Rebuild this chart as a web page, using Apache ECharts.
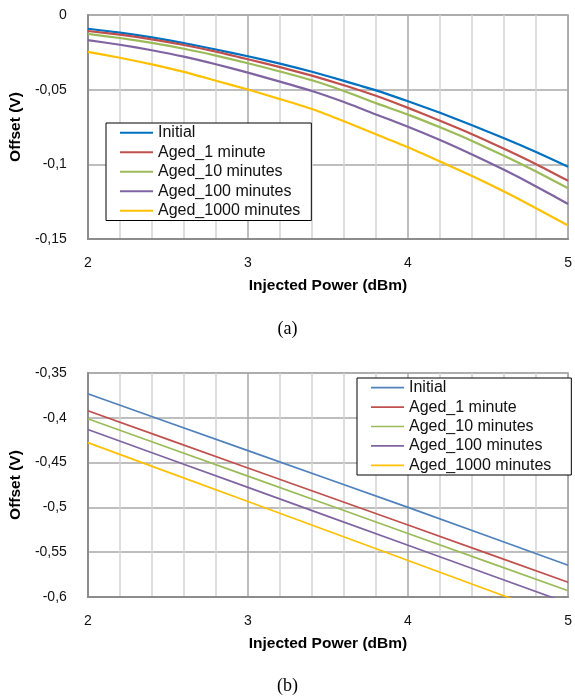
<!DOCTYPE html>
<html>
<head>
<meta charset="utf-8">
<script src="https://cdn.jsdelivr.net/npm/echarts@6/dist/echarts.min.js"></script>
<style>
html,body{margin:0;padding:0;background:#fff;}
#chart{width:575px;height:698px;}
</style>
</head>
<body>
<div id="chart"></div>
<script>
// ---------- data ----------
const seriesNames = ['Initial', 'Aged_1 minute', 'Aged_10 minutes', 'Aged_100 minutes', 'Aged_1000 minutes'];

// chart (a)
const powerA = [2.0, 2.2, 2.4, 2.6, 2.8, 3.0, 3.2, 3.4, 3.6, 3.8, 4.0, 4.2, 4.4, 4.6, 4.8, 5.0];
const aInitial = [-0.0092, -0.0118, -0.0150, -0.0188, -0.0231, -0.0276, -0.0326, -0.0380, -0.0441, -0.0505, -0.0578, -0.0655, -0.0738, -0.0825, -0.0918, -0.1016];
const aAged1 = [-0.0107, -0.0132, -0.0163, -0.0201, -0.0245, -0.0296, -0.0349, -0.0406, -0.0470, -0.0541, -0.0622, -0.0708, -0.0798, -0.0896, -0.0999, -0.1110];
const aAged10 = [-0.0127, -0.0154, -0.0187, -0.0226, -0.0272, -0.0323, -0.0378, -0.0437, -0.0509, -0.0590, -0.0667, -0.0752, -0.0843, -0.0943, -0.1048, -0.1160];
const aAged100 = [-0.0168, -0.0199, -0.0236, -0.0279, -0.0330, -0.0386, -0.0446, -0.0509, -0.0583, -0.0666, -0.0748, -0.0837, -0.0934, -0.1037, -0.1148, -0.1266];
const aAged1000 = [-0.0247, -0.0286, -0.0331, -0.0381, -0.0440, -0.0499, -0.0563, -0.0630, -0.0712, -0.0799, -0.0886, -0.0981, -0.1078, -0.1182, -0.1294, -0.1410];

// chart (b)
const powerB = [2.0, 2.5, 3.0, 3.5, 4.0, 4.5, 5.0];
const bInitial = [-0.3732, -0.4049, -0.4366, -0.4683, -0.5000, -0.5322, -0.5645];
const bAged1 = [-0.3922, -0.4241, -0.4560, -0.4878, -0.5197, -0.5516, -0.5835];
const bAged10 = [-0.4011, -0.4331, -0.4651, -0.4971, -0.5291, -0.5611, -0.5931];
const bAged100 = [-0.4131, -0.4454, -0.4777, -0.5100, -0.5423, -0.5746, -0.6069];
const bAged1000 = [-0.4277, -0.4606, -0.4935, -0.5264, -0.5593, -0.5922, -0.6251];

// axis settings (values)
const xMin = 2, xMax = 5, xStep = 1;
const yA = {min: -0.15, max: 0, step: 0.05};
const yB = {min: -0.6, max: -0.35, step: 0.05};
const xTitle = 'Injected Power (dBm)';
const yTitle = 'Offset (V)';
const captions = ['(a)', '(b)'];

// ---------- styles ----------
const colorsA = ['#0070C0', '#C0504D', '#9BBB59', '#8064A2', '#FFC000'];
const colorsB = ['#4F81BD', '#C0504D', '#9BBB59', '#8064A2', '#FFC000'];
const FONT = 'Liberation Sans';

function pairs(xs, ys) { return xs.map((x, i) => [x, ys[i]]); }
function fmt(v) { return String(+(+v).toFixed(4)).replace('.', ','); }

const dataA = [aInitial, aAged1, aAged10, aAged100, aAged1000];
const dataB = [bInitial, bAged1, bAged10, bAged100, bAged1000];

function xAxisCfg(gi) {
  return {
    type: 'value', gridIndex: gi, min: xMin, max: xMax, interval: xStep,
    name: xTitle, nameLocation: 'middle', nameGap: 39,
    nameTextStyle: {fontFamily: FONT, fontSize: 15.5, fontWeight: 'bold', color: '#000'},
    axisLine: {show: true, onZero: false, lineStyle: {color: '#8C8C8C', width: 2}},
    axisTick: {show: false},
    axisLabel: {fontFamily: FONT, fontSize: 14, color: '#111', margin: 17, formatter: fmt},
    splitLine: {show: true, lineStyle: {color: '#A8A8A8', width: 1.5}},
    minorTick: {show: false, splitNumber: 5},
    minorSplitLine: {show: true, lineStyle: {color: '#D3D3D3', width: 1.5}}
  };
}
function yAxisCfg(gi, r) {
  return {
    type: 'value', gridIndex: gi, min: r.min, max: r.max, interval: r.step,
    name: yTitle, nameLocation: 'middle', nameGap: 62, nameRotate: 90,
    nameTextStyle: {fontFamily: FONT, fontSize: 15.5, fontWeight: 'bold', color: '#000'},
    axisLine: {show: true, onZero: false, lineStyle: {color: '#8C8C8C', width: 2}},
    axisTick: {show: false},
    axisLabel: {fontFamily: FONT, fontSize: 14, color: '#111', margin: 21, formatter: fmt},
    splitLine: {show: true, lineStyle: {color: '#A8A8A8', width: 1.5}}
  };
}
function legendCfg(colors, left, top, h, lw, padRight) {
  return {
    orient: 'vertical', left: left, top: top,
    data: seriesNames.map((n, i) => ({name: n, itemStyle: {color: colors[i]}})),
    icon: 'rect', itemWidth: 33, itemHeight: lw, itemGap: 0,
    padding: [0, padRight, 0, 14],
    borderColor: '#000', borderWidth: 1, backgroundColor: '#fff',
    selectedMode: false,
    textStyle: {fontFamily: FONT, fontSize: 16, color: '#111', lineHeight: h, height: h}
  };
}

const series = [];
dataA.forEach((d, i) => series.push({
  name: seriesNames[i], type: 'line', xAxisIndex: 0, yAxisIndex: 0,
  data: pairs(powerA, d), showSymbol: false, smooth: 0.2, clip: true,
  lineStyle: {color: colorsA[i], width: 2.2}, itemStyle: {color: colorsA[i]}
}));
dataB.forEach((d, i) => series.push({
  name: seriesNames[i], type: 'line', xAxisIndex: 1, yAxisIndex: 1,
  data: pairs(powerB, d), showSymbol: false, clip: true,
  lineStyle: {color: colorsB[i], width: 1.7}, itemStyle: {color: colorsB[i]}
}));

const chart = echarts.init(document.getElementById('chart'), null, {renderer: 'canvas'});
chart.setOption({
  animation: false,
  backgroundColor: '#fff',
  grid: [
    {left: 85, right: 2, top: 15, height: 224, show: true, borderColor: '#A8A8A8', borderWidth: 1.5},
    {left: 85, right: 2, top: 373, height: 224, show: true, borderColor: '#A8A8A8', borderWidth: 1.5}
  ],
  xAxis: [xAxisCfg(0), xAxisCfg(1)],
  yAxis: [yAxisCfg(0, yA), yAxisCfg(1, yB)],
  legend: [
    legendCfg(colorsA, 106, 123, 19.5, 2.2, 11),
    legendCfg(colorsB, 357, 378, 19.4, 1.7, 20)
  ],
  graphic: [
    {type: 'text', left: 'center', top: 320, style: {text: captions[0], font: '18px "Liberation Serif"', fill: '#000'}},
    {type: 'text', left: 'center', top: 677, style: {text: captions[1], font: '18px "Liberation Serif"', fill: '#000'}}
  ],
  series: series
});
</script>
</body>
</html>
